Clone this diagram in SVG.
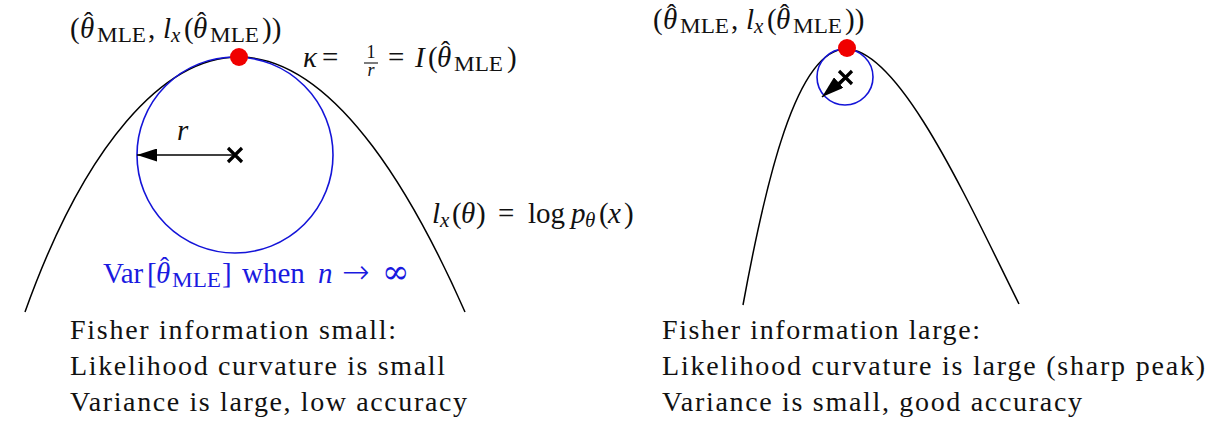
<svg xmlns="http://www.w3.org/2000/svg" width="1219" height="423" viewBox="0 0 1219 423">
<defs>
<marker id="ahL" viewBox="0 0 20 13" refX="20" refY="6.5" markerWidth="21" markerHeight="13" markerUnits="userSpaceOnUse" orient="auto">
<path d="M0,0 L20,6.5 L0,13 z" fill="#000"/>
</marker>
<marker id="ahR" viewBox="0 0 22 14" refX="22" refY="7" markerWidth="22" markerHeight="14" markerUnits="userSpaceOnUse" orient="auto">
<path d="M0,0 L22,7 L0,14 z" fill="#000"/>
</marker>
</defs>
<style>
text{font-family:"Liberation Serif","DejaVu Serif",serif;fill:#111}
.m{font-size:29px}
.b{font-size:28px}
.i{font-style:italic}
.s{font-size:20px}
.sx{font-size:21px;font-style:italic}
.hat{font-size:27px;font-style:normal}
.sym{font-family:"DejaVu Sans","DejaVu Serif",sans-serif;font-weight:200}
.curve{fill:none;stroke:#000;stroke-width:1.5}
.circ{fill:none;stroke:#1414d8;stroke-width:1.6}
.dot{fill:#f00000}
.cross{stroke:#000;stroke-width:3.2}
.arr{stroke:#000;stroke-width:1.6;fill:none}
.blue,.blue tspan{fill:#1a1ae0}
</style>

<g id="left-plot">
<path class="curve" d="M25,312 C85,144 164,57 239,57 C339,57 420,210 465,312"/>
<circle class="circ" cx="235" cy="155" r="98"/>
<circle class="dot" cx="239" cy="57" r="9"/>
<path class="cross" d="M228,148 L242,162 M242,148 L228,162"/>
</g>

<g id="right-plot">
<path class="curve" d="M743,305 C765,185 796,49 846,49 C900,49 969,204 1019,304"/>
<circle class="circ" cx="845" cy="77" r="28"/>
<circle class="dot" cx="847" cy="48" r="9"/>
<path class="cross" d="M839,71 L852,84 M852,71 L839,84"/>
</g>

<g id="connectors">
<line class="arr" x1="233" y1="155" x2="137" y2="155" marker-end="url(#ahL)"/>
<line class="arr" x1="845" y1="77" x2="822" y2="97" marker-end="url(#ahR)"/>
</g>

<g id="labels-left">
<text class="m" y="38"><tspan x="70">(</tspan><tspan x="80" class="i">θ</tspan><tspan class="hat" x="84" y="31">ˆ</tspan><tspan class="s" x="97" y="42" textLength="49" lengthAdjust="spacingAndGlyphs">MLE</tspan><tspan x="148" y="38">,</tspan><tspan class="i" x="163">l</tspan><tspan class="sx" x="171" y="42">x</tspan><tspan x="184" y="38">(</tspan><tspan class="i" x="193">θ</tspan><tspan class="hat" x="197" y="31">ˆ</tspan><tspan class="s" x="210" y="42" textLength="49" lengthAdjust="spacingAndGlyphs">MLE</tspan><tspan x="262" y="38">))</tspan></text>
<text class="m" y="67"><tspan class="i" x="303">κ</tspan><tspan x="322">=</tspan><tspan x="388">=</tspan><tspan class="i" x="415">I</tspan><tspan x="428">(</tspan><tspan class="i" x="437">θ</tspan><tspan class="hat" x="441" y="60">ˆ</tspan><tspan class="s" x="454" y="71" textLength="49" lengthAdjust="spacingAndGlyphs">MLE</tspan><tspan x="507" y="67">)</tspan></text>
<text x="371" y="58" font-size="18" text-anchor="middle">1</text>
<line x1="364" y1="63" x2="378" y2="63" stroke="#111" stroke-width="1.1"/>
<text x="371" y="76" font-size="18" font-style="italic" text-anchor="middle">r</text>
<text class="m i" x="177" y="140">r</text>
<text class="m" y="223"><tspan class="i" x="432">l</tspan><tspan class="sx" x="440" y="227">x</tspan><tspan x="452" y="223">(</tspan><tspan class="i" x="461">θ</tspan><tspan x="476">)</tspan><tspan x="498">=</tspan><tspan x="528">log</tspan><tspan class="i" x="571">p</tspan><tspan class="sx" x="585" y="227">θ</tspan><tspan x="599" y="223">(</tspan><tspan class="i" x="608">x</tspan><tspan x="624">)</tspan></text>
<text class="m blue" y="283"><tspan x="103">Var</tspan><tspan x="147">[</tspan><tspan class="i" x="156">θ</tspan><tspan class="hat" x="160" y="276">ˆ</tspan><tspan class="s" x="172" y="287" textLength="49" lengthAdjust="spacingAndGlyphs">MLE</tspan><tspan x="222" y="283">]</tspan><tspan x="242">when</tspan><tspan class="i" x="318">n</tspan><tspan class="sym" x="342" font-size="33">→</tspan><tspan class="sym" x="382" font-size="33">∞</tspan></text>
</g>

<g id="labels-right">
<text class="m" y="29"><tspan x="653">(</tspan><tspan x="663" class="i">θ</tspan><tspan class="hat" x="667" y="23" font-size="24">ˆ</tspan><tspan class="s" x="680" y="33" textLength="49" lengthAdjust="spacingAndGlyphs">MLE</tspan><tspan x="731" y="29">,</tspan><tspan class="i" x="746">l</tspan><tspan class="sx" x="754" y="33">x</tspan><tspan x="767" y="29">(</tspan><tspan class="i" x="776">θ</tspan><tspan class="hat" x="780" y="23" font-size="24">ˆ</tspan><tspan class="s" x="793" y="33" textLength="49" lengthAdjust="spacingAndGlyphs">MLE</tspan><tspan x="845" y="29">))</tspan></text>
</g>

<g id="caption-left">
<text class="b" x="70" y="339" textLength="326" lengthAdjust="spacing">Fisher information small:</text>
<text class="b" x="70" y="375" textLength="375" lengthAdjust="spacing">Likelihood curvature is small</text>
<text class="b" x="70" y="411" textLength="397" lengthAdjust="spacing">Variance is large, low accuracy</text>
</g>

<g id="caption-right">
<text class="b" x="662" y="339" textLength="318" lengthAdjust="spacing">Fisher information large:</text>
<text class="b" x="662" y="375" textLength="543" lengthAdjust="spacing">Likelihood curvature is large (sharp peak)</text>
<text class="b" x="662" y="411" textLength="420" lengthAdjust="spacing">Variance is small, good accuracy</text>
</g>
</svg>
